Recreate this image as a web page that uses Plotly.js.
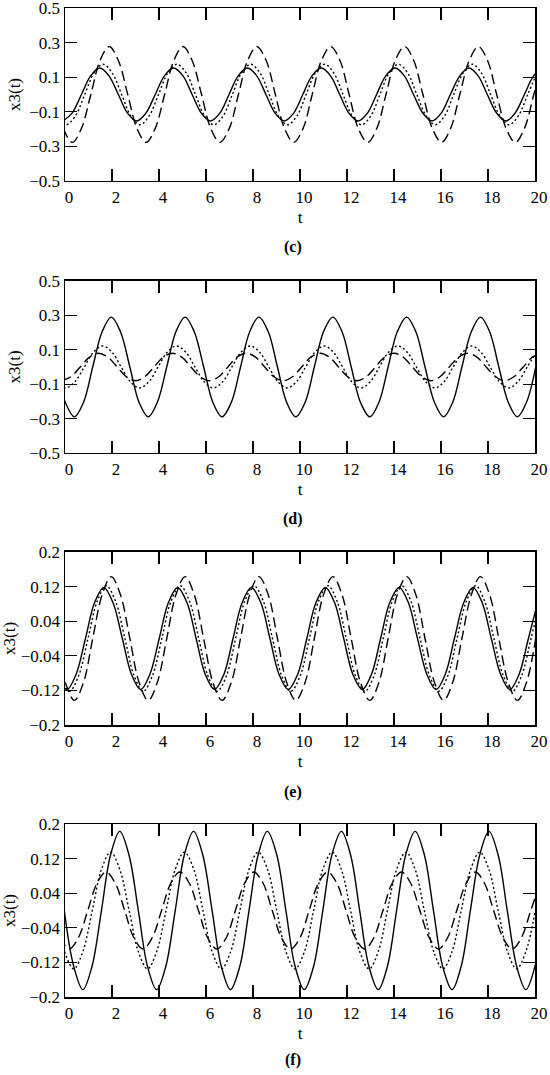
<!DOCTYPE html>
<html>
<head>
<meta charset="utf-8">
<script src="https://cdn.plot.ly/plotly-3.0.1.min.js"></script>
<style>html,body{margin:0;padding:0;background:#fff;}#chart{width:550px;height:1075px;}</style>
</head>
<body>
<div id="chart"></div>
<script>
// ---- Data (t, x3(t)) ----
// panel (c)
const cSolidT = [-0.09, 0.30, 0.70, 1.09, 1.48, 1.87, 2.27, 2.66, 3.05, 3.44, 3.84, 4.23, 4.62, 5.02, 5.41, 5.80, 6.19, 6.59, 6.98, 7.37, 7.76, 8.16, 8.55, 8.94, 9.33, 9.73, 10.12, 10.51, 10.91, 11.30, 11.69, 12.08, 12.48, 12.87, 13.26, 13.65, 14.05, 14.44, 14.83, 15.23, 15.62, 16.01, 16.40, 16.80, 17.19, 17.58, 17.97, 18.37, 18.76, 19.15, 19.55, 19.94, 20.33];
const cSolidY = [-0.153, -0.108, 0, 0.108, 0.153, 0.108, 0, -0.108,
  -0.153, -0.108, 0, 0.108, 0.153, 0.108, 0, -0.108,
  -0.153, -0.108, 0, 0.108, 0.153, 0.108, 0, -0.108,
  -0.153, -0.108, 0, 0.108, 0.153, 0.108, 0, -0.108,
  -0.153, -0.108, 0, 0.108, 0.153, 0.108, 0, -0.108,
  -0.153, -0.108, 0, 0.108, 0.153, 0.108, 0, -0.108,
  -0.153, -0.108, 0, 0.108, 0.153];
const cDotT = [-0.34, 0.05, 0.44, 0.84, 1.23, 1.62, 2.01, 2.41, 2.80, 3.19, 3.58, 3.98, 4.37, 4.76, 5.16, 5.55, 5.94, 6.33, 6.73, 7.12, 7.51, 7.90, 8.30, 8.69, 9.08, 9.47, 9.87, 10.26, 10.65, 11.05, 11.44, 11.83, 12.22, 12.62, 13.01, 13.40, 13.79, 14.19, 14.58, 14.97, 15.37, 15.76, 16.15, 16.54, 16.94, 17.33, 17.72, 18.11, 18.51, 18.90, 19.29, 19.69, 20.08];
const cDotY = [-0.124,
  -0.175, -0.124, 0, 0.124, 0.175, 0.124, 0, -0.124,
  -0.175, -0.124, 0, 0.124, 0.175, 0.124, 0, -0.124,
  -0.175, -0.124, 0, 0.124, 0.175, 0.124, 0, -0.124,
  -0.175, -0.124, 0, 0.124, 0.175, 0.124, 0, -0.124,
  -0.175, -0.124, 0, 0.124, 0.175, 0.124, 0, -0.124,
  -0.175, -0.124, 0, 0.124, 0.175, 0.124, 0, -0.124,
  -0.175, -0.124, 0, 0.124];
const cDashT = [-0.08, 0.31, 0.70, 1.10, 1.49, 1.88, 2.27, 2.67, 3.06, 3.45, 3.84, 4.24, 4.63, 5.02, 5.41, 5.81, 6.20, 6.59, 6.99, 7.38, 7.77, 8.16, 8.56, 8.95, 9.34, 9.73, 10.13, 10.52, 10.91, 11.31, 11.70, 12.09, 12.48, 12.88, 13.27, 13.66, 14.05, 14.45, 14.84, 15.23, 15.63, 16.02, 16.41, 16.80, 17.20, 17.59, 17.98, 18.37, 18.77, 19.16, 19.55, 19.95, 20.34];
const cDashY = [-0.196,
  -0.277, -0.196, 0, 0.196, 0.277, 0.196, 0, -0.196,
  -0.277, -0.196, 0, 0.196, 0.277, 0.196, 0, -0.196,
  -0.277, -0.196, 0, 0.196, 0.277, 0.196, 0, -0.196,
  -0.277, -0.196, 0, 0.196, 0.277, 0.196, 0, -0.196,
  -0.277, -0.196, 0, 0.196, 0.277, 0.196, 0, -0.196,
  -0.277, -0.196, 0, 0.196, 0.277, 0.196, 0, -0.196,
  -0.277, -0.196, 0, 0.196];
// panel (d)
const dSolidT = [-0.39, 0.01, 0.40, 0.79, 1.18, 1.58, 1.97, 2.36, 2.76, 3.15, 3.54, 3.93, 4.33, 4.72, 5.11, 5.50, 5.90, 6.29, 6.68, 7.08, 7.47, 7.86, 8.25, 8.65, 9.04, 9.43, 9.82, 10.22, 10.61, 11.00, 11.40, 11.79, 12.18, 12.57, 12.97, 13.36, 13.75, 14.14, 14.54, 14.93, 15.32, 15.72, 16.11, 16.50, 16.89, 17.29, 17.68, 18.07, 18.46, 18.86, 19.25, 19.64, 20.03];
const dSolidY = [0, -0.205,
  -0.29, -0.205, 0, 0.205, 0.29, 0.205, 0, -0.205,
  -0.29, -0.205, 0, 0.205, 0.29, 0.205, 0, -0.205,
  -0.29, -0.205, 0, 0.205, 0.29, 0.205, 0, -0.205,
  -0.29, -0.205, 0, 0.205, 0.29, 0.205, 0, -0.205,
  -0.29, -0.205, 0, 0.205, 0.29, 0.205, 0, -0.205,
  -0.29, -0.205, 0, 0.205, 0.29, 0.205, 0, -0.205,
  -0.29, -0.205, 0];
const dDotT = [-0.36, 0.03, 0.42, 0.82, 1.21, 1.60, 2.00, 2.39, 2.78, 3.17, 3.57, 3.96, 4.35, 4.74, 5.14, 5.53, 5.92, 6.31, 6.71, 7.10, 7.49, 7.88, 8.28, 8.67, 9.06, 9.45, 9.85, 10.24, 10.63, 11.03, 11.42, 11.81, 12.20, 12.60, 12.99, 13.38, 13.77, 14.17, 14.56, 14.95, 15.35, 15.74, 16.13, 16.52, 16.92, 17.31, 17.70, 18.09, 18.49, 18.88, 19.27, 19.67, 20.06];
const dDotY = [-0.086,
  -0.122, -0.086, 0, 0.086, 0.122, 0.086, 0, -0.086,
  -0.122, -0.086, 0, 0.086, 0.122, 0.086, 0, -0.086,
  -0.122, -0.086, 0, 0.086, 0.122, 0.086, 0, -0.086,
  -0.122, -0.086, 0, 0.086, 0.122, 0.086, 0, -0.086,
  -0.122, -0.086, 0, 0.086, 0.122, 0.086, 0, -0.086,
  -0.122, -0.086, 0, 0.086, 0.122, 0.086, 0, -0.086,
  -0.122, -0.086, 0, 0.086];
const dDashT = [-0.14, 0.25, 0.65, 1.04, 1.43, 1.82, 2.22, 2.61, 3.00, 3.39, 3.79, 4.18, 4.57, 4.97, 5.36, 5.75, 6.14, 6.54, 6.93, 7.32, 7.71, 8.11, 8.50, 8.89, 9.29, 9.68, 10.07, 10.46, 10.86, 11.25, 11.64, 12.03, 12.43, 12.82, 13.21, 13.60, 14.00, 14.39, 14.78, 15.18, 15.57, 15.96, 16.35, 16.75, 17.14, 17.53, 17.92, 18.32, 18.71, 19.10, 19.50, 19.89, 20.28];
const dDashY = [-0.08, -0.057, 0, 0.057, 0.08, 0.057, 0, -0.057,
  -0.08, -0.057, 0, 0.057, 0.08, 0.057, 0, -0.057,
  -0.08, -0.057, 0, 0.057, 0.08, 0.057, 0, -0.057,
  -0.08, -0.057, 0, 0.057, 0.08, 0.057, 0, -0.057,
  -0.08, -0.057, 0, 0.057, 0.08, 0.057, 0, -0.057,
  -0.08, -0.057, 0, 0.057, 0.08, 0.057, 0, -0.057,
  -0.08, -0.057, 0, 0.057, 0.08];
// panel (e)
const eSolidT = [-0.31, 0.08, 0.47, 0.87, 1.26, 1.65, 2.04, 2.44, 2.83, 3.22, 3.61, 4.01, 4.40, 4.79, 5.19, 5.58, 5.97, 6.36, 6.76, 7.15, 7.54, 7.93, 8.33, 8.72, 9.11, 9.50, 9.90, 10.29, 10.68, 11.08, 11.47, 11.86, 12.25, 12.65, 13.04, 13.43, 13.82, 14.22, 14.61, 15.00, 15.40, 15.79, 16.18, 16.57, 16.97, 17.36, 17.75, 18.14, 18.54, 18.93, 19.32, 19.72, 20.11];
const eSolidY = [-0.083,
  -0.118, -0.083, 0, 0.083, 0.118, 0.083, 0, -0.083,
  -0.118, -0.083, 0, 0.083, 0.118, 0.083, 0, -0.083,
  -0.118, -0.083, 0, 0.083, 0.118, 0.083, 0, -0.083,
  -0.118, -0.083, 0, 0.083, 0.118, 0.083, 0, -0.083,
  -0.118, -0.083, 0, 0.083, 0.118, 0.083, 0, -0.083,
  -0.118, -0.083, 0, 0.083, 0.118, 0.083, 0, -0.083,
  -0.118, -0.083, 0, 0.083];
const eDotT = [-0.20, 0.19, 0.58, 0.98, 1.37, 1.76, 2.15, 2.55, 2.94, 3.33, 3.72, 4.12, 4.51, 4.90, 5.30, 5.69, 6.08, 6.47, 6.87, 7.26, 7.65, 8.04, 8.44, 8.83, 9.22, 9.61, 10.01, 10.40, 10.79, 11.19, 11.58, 11.97, 12.36, 12.76, 13.15, 13.54, 13.93, 14.33, 14.72, 15.11, 15.51, 15.90, 16.29, 16.68, 17.08, 17.47, 17.86, 18.25, 18.65, 19.04, 19.43, 19.83, 20.22];
const eDotY = [-0.086,
  -0.122, -0.086, 0, 0.086, 0.122, 0.086, 0, -0.086,
  -0.122, -0.086, 0, 0.086, 0.122, 0.086, 0, -0.086,
  -0.122, -0.086, 0, 0.086, 0.122, 0.086, 0, -0.086,
  -0.122, -0.086, 0, 0.086, 0.122, 0.086, 0, -0.086,
  -0.122, -0.086, 0, 0.086, 0.122, 0.086, 0, -0.086,
  -0.122, -0.086, 0, 0.086, 0.122, 0.086, 0, -0.086,
  -0.122, -0.086, 0, 0.086];
const eDashT = [-0.39, 0.01, 0.40, 0.79, 1.18, 1.58, 1.97, 2.36, 2.76, 3.15, 3.54, 3.93, 4.33, 4.72, 5.11, 5.50, 5.90, 6.29, 6.68, 7.08, 7.47, 7.86, 8.25, 8.65, 9.04, 9.43, 9.82, 10.22, 10.61, 11.00, 11.40, 11.79, 12.18, 12.57, 12.97, 13.36, 13.75, 14.14, 14.54, 14.93, 15.32, 15.72, 16.11, 16.50, 16.89, 17.29, 17.68, 18.07, 18.46, 18.86, 19.25, 19.64, 20.03];
const eDashY = [0, -0.101,
  -0.143, -0.101, 0, 0.101, 0.143, 0.101, 0, -0.101,
  -0.143, -0.101, 0, 0.101, 0.143, 0.101, 0, -0.101,
  -0.143, -0.101, 0, 0.101, 0.143, 0.101, 0, -0.101,
  -0.143, -0.101, 0, 0.101, 0.143, 0.101, 0, -0.101,
  -0.143, -0.101, 0, 0.101, 0.143, 0.101, 0, -0.101,
  -0.143, -0.101, 0, 0.101, 0.143, 0.101, 0, -0.101,
  -0.143, -0.101, 0];
// panel (f)
const fSolidT = [-0.03, 0.37, 0.76, 1.15, 1.55, 1.94, 2.33, 2.72, 3.12, 3.51, 3.90, 4.29, 4.69, 5.08, 5.47, 5.86, 6.26, 6.65, 7.04, 7.44, 7.83, 8.22, 8.61, 9.01, 9.40, 9.79, 10.18, 10.58, 10.97, 11.36, 11.76, 12.15, 12.54, 12.93, 13.33, 13.72, 14.11, 14.50, 14.90, 15.29, 15.68, 16.07, 16.47, 16.86, 17.25, 17.65, 18.04, 18.43, 18.82, 19.22, 19.61, 20.00, 20.40];
const fSolidY = [0, -0.129,
  -0.183, -0.129, 0, 0.129, 0.183, 0.129, 0, -0.129,
  -0.183, -0.129, 0, 0.129, 0.183, 0.129, 0, -0.129,
  -0.183, -0.129, 0, 0.129, 0.183, 0.129, 0, -0.129,
  -0.183, -0.129, 0, 0.129, 0.183, 0.129, 0, -0.129,
  -0.183, -0.129, 0, 0.129, 0.183, 0.129, 0, -0.129,
  -0.183, -0.129, 0, 0.129, 0.183, 0.129, 0, -0.129,
  -0.183, -0.129, 0];
const fDotT = [-0.02, 0.37, 0.76, 1.16, 1.55, 1.94, 2.33, 2.73, 3.12, 3.51, 3.90, 4.30, 4.69, 5.08, 5.48, 5.87, 6.26, 6.65, 7.05, 7.44, 7.83, 8.22, 8.62, 9.01, 9.40, 9.79, 10.19, 10.58, 10.97, 11.37, 11.76, 12.15, 12.54, 12.94, 13.33, 13.72, 14.11, 14.51, 14.90, 15.29, 15.69, 16.08, 16.47, 16.86, 17.26, 17.65, 18.04, 18.43, 18.83, 19.22, 19.61, 20.01];
const fDotY = [-0.095,
  -0.135, -0.095, 0, 0.095, 0.135, 0.095, 0, -0.095,
  -0.135, -0.095, 0, 0.095, 0.135, 0.095, 0, -0.095,
  -0.135, -0.095, 0, 0.095, 0.135, 0.095, 0, -0.095,
  -0.135, -0.095, 0, 0.095, 0.135, 0.095, 0, -0.095,
  -0.135, -0.095, 0, 0.095, 0.135, 0.095, 0, -0.095,
  -0.135, -0.095, 0, 0.095, 0.135, 0.095, 0, -0.095,
  -0.135, -0.095, 0];
const fDashT = [-0.21, 0.18, 0.57, 0.97, 1.36, 1.75, 2.14, 2.54, 2.93, 3.32, 3.71, 4.11, 4.50, 4.89, 5.29, 5.68, 6.07, 6.46, 6.86, 7.25, 7.64, 8.03, 8.43, 8.82, 9.21, 9.60, 10.00, 10.39, 10.78, 11.18, 11.57, 11.96, 12.35, 12.75, 13.14, 13.53, 13.92, 14.32, 14.71, 15.10, 15.50, 15.89, 16.28, 16.67, 17.07, 17.46, 17.85, 18.24, 18.64, 19.03, 19.42, 19.82, 20.21];
const fDashY = [-0.063,
  -0.089, -0.063, 0, 0.063, 0.089, 0.063, 0, -0.063,
  -0.089, -0.063, 0, 0.063, 0.089, 0.063, 0, -0.063,
  -0.089, -0.063, 0, 0.063, 0.089, 0.063, 0, -0.063,
  -0.089, -0.063, 0, 0.063, 0.089, 0.063, 0, -0.063,
  -0.089, -0.063, 0, 0.063, 0.089, 0.063, 0, -0.063,
  -0.089, -0.063, 0, 0.063, 0.089, 0.063, 0, -0.063,
  -0.089, -0.063, 0, 0.063];

// tick labels
const xTicks = [0, 2, 4, 6, 8, 10, 12, 14, 16, 18, 20];
const yTicksWide = [-0.5, -0.3, -0.1, 0.1, 0.3, 0.5];
const yTextWide = ['\u22120.5', '\u22120.3', '\u22120.1', '0.1', '0.3', '0.5'];
const yTicksNarrow = [-0.2, -0.12, -0.04, 0.04, 0.12, 0.2];
const yTextNarrow = ['\u22120.2', '\u22120.12', '\u22120.04', '0.04', '0.12', '0.2'];
const panelLabels = ['(c)', '(d)', '(e)', '(f)'];

// ---- Figure ----
const styles = {
  solid: {color: 'black', width: 1.4, dash: 'solid', shape: 'spline', smoothing: 1},
  dot:   {color: 'black', width: 1.4, dash: '2px,2.5px', shape: 'spline', smoothing: 1},
  dash:  {color: 'black', width: 1.4, dash: '10px,5px', shape: 'spline', smoothing: 1}
};
const panels = [
  [[cSolidT, cSolidY, 'solid'], [cDotT, cDotY, 'dot'], [cDashT, cDashY, 'dash']],
  [[dSolidT, dSolidY, 'solid'], [dDotT, dDotY, 'dot'], [dDashT, dDashY, 'dash']],
  [[eSolidT, eSolidY, 'solid'], [eDotT, eDotY, 'dot'], [eDashT, eDashY, 'dash']],
  [[fSolidT, fSolidY, 'solid'], [fDotT, fDotY, 'dot'], [fDashT, fDashY, 'dash']]
];
const traces = [];
panels.forEach((p, i) => {
  const sfx = i === 0 ? '' : String(i + 1);
  p.forEach(([t, y, s]) => {
    traces.push({x: t, y: y, type: 'scatter', mode: 'lines', line: styles[s],
      xaxis: 'x' + sfx, yaxis: 'y' + sfx, hoverinfo: 'skip'});
  });
});

const font = {family: 'Liberation Serif', size: 17, color: 'black'};
const domains = [[0.8251, 1], [0.5501, 0.7240], [0.2750, 0.4500], [0, 0.1749]];
const labelY = [0.7583, 0.4833, 0.2073, -0.0637];
const layout = {
  width: 550, height: 1075,
  margin: {l: 65, r: 15, t: 8, b: 78},
  paper_bgcolor: 'white', plot_bgcolor: 'white',
  showlegend: false, font: font,
  annotations: []
};
for (let i = 0; i < 4; i++) {
  const sfx = i === 0 ? '' : String(i + 1);
  const wide = i < 2;
  layout['xaxis' + sfx] = {
    anchor: 'y' + sfx, domain: [0, 1], range: [0, 20],
    tickmode: 'array', tickvals: xTicks, ticktext: xTicks.map(String),
    ticks: 'inside', ticklen: 12, tickwidth: 1.2, tickcolor: 'black',
    showline: true, linewidth: 1.5, linecolor: 'black', mirror: 'ticks',
    showgrid: false, zeroline: false, ticklabelshift: 4, ticklabeloverflow: 'allow',
    tickfont: font, title: {text: 't', font: font, standoff: 5}
  };
  layout['yaxis' + sfx] = {
    anchor: 'x' + sfx, domain: domains[i], range: wide ? [-0.5, 0.5] : [-0.2, 0.2],
    tickmode: 'array', tickvals: wide ? yTicksWide : yTicksNarrow,
    ticktext: wide ? yTextWide : yTextNarrow,
    ticks: 'inside', ticklen: 12, tickwidth: 1.2, tickcolor: 'black',
    showline: true, linewidth: 1.5, linecolor: 'black', mirror: 'ticks',
    showgrid: false, zeroline: false, ticklabeloverflow: 'allow',
    tickfont: font, title: {text: 'x3(t)', font: font, standoff: 4}
  };
  layout.annotations.push({
    text: '<b>' + panelLabels[i] + '</b>', xref: 'paper', yref: 'paper',
    x: 0.485, y: labelY[i], xanchor: 'center', yanchor: 'middle',
    showarrow: false, font: {family: 'Liberation Serif', size: 16, color: 'black'}
  });
}
Plotly.newPlot('chart', traces, layout, {displayModeBar: false, staticPlot: true});
</script>
</body>
</html>
